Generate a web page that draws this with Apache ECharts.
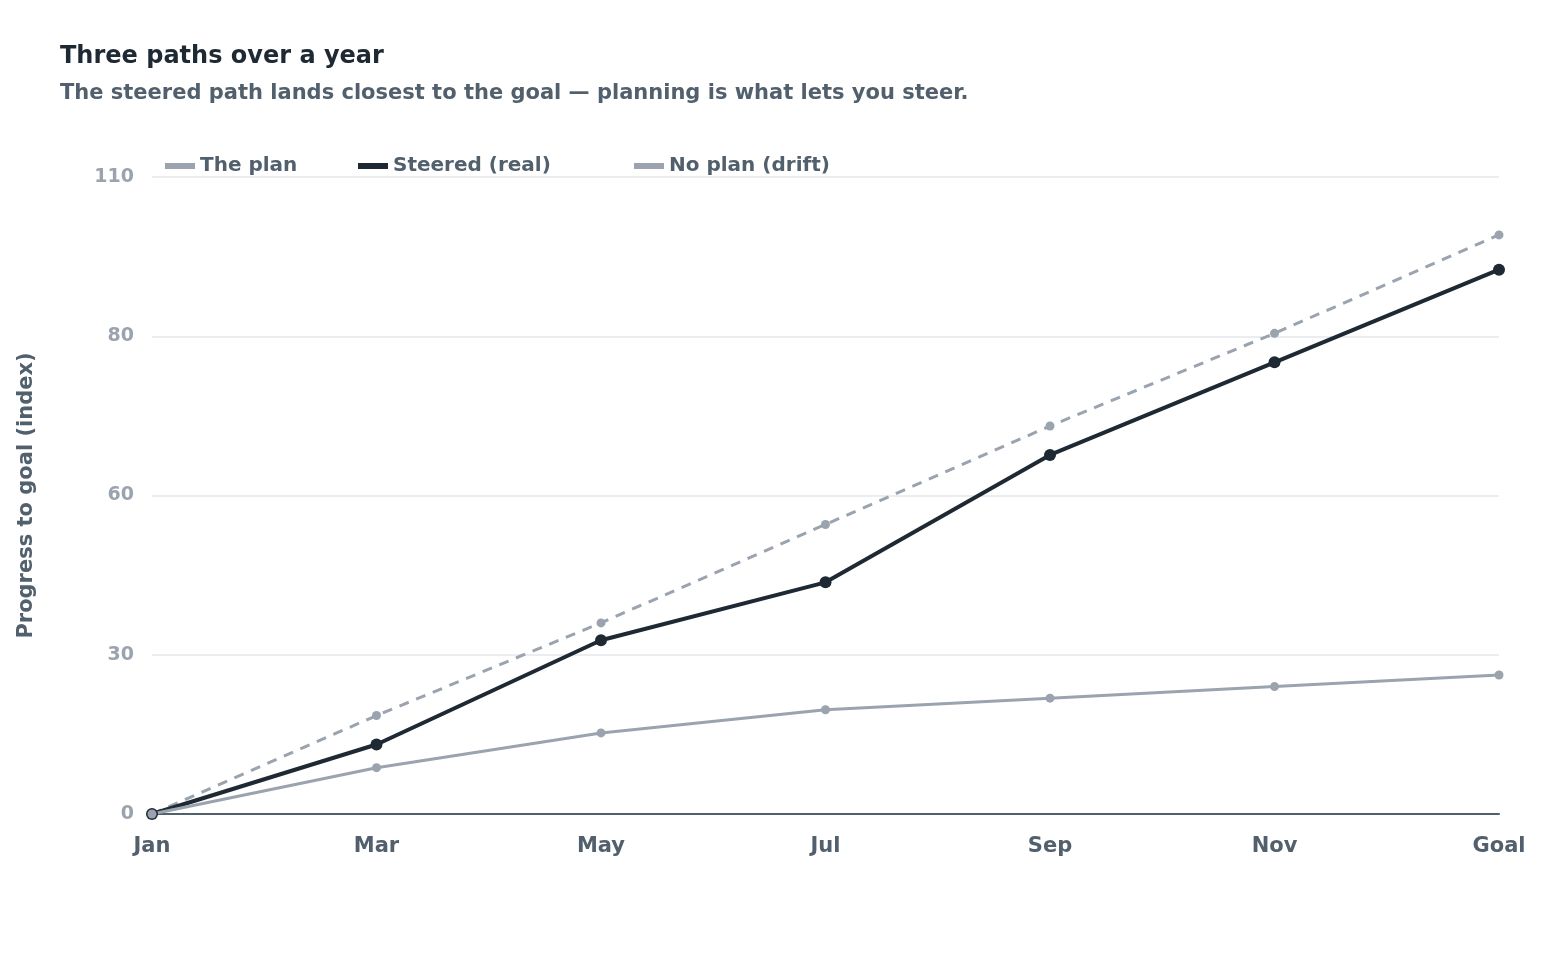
<!DOCTYPE html>
<html>
<head>
<meta charset="utf-8">
<script src="https://cdn.jsdelivr.net/npm/echarts@6/dist/echarts.min.js"></script>
<style>
  html, body { margin: 0; padding: 0; background: #ffffff; }
  #main { width: 1560px; height: 953px; }
</style>
</head>
<body>
<div id="main"></div>
<script>
var months = ['Jan', 'Mar', 'May', 'Jul', 'Sep', 'Nov', 'Goal'];
var planData = [0, 17, 33, 50, 67, 83, 100];
var steeredData = [0, 12, 30, 40, 62, 78, 94];
var driftData = [0, 8, 14, 18, 20, 22, 24];

var FONT = 'DejaVu Sans';
var DARK = '#1f2933';
var MID = '#52606d';
var GRAY = '#9aa3ae';

var myChart = echarts.init(document.getElementById('main'));

// one legend per item so each sits where the original put it
function legendAt(name, left) {
    return {
        data: [name],
        left: left,
        top: 156,
        padding: 0,
        icon: 'rect',
        itemWidth: 30,
        itemHeight: 6,
        itemGap: 8,
        textStyle: { fontFamily: FONT, fontSize: 20, fontWeight: 'bold', color: MID }
    };
}

var option = {
    backgroundColor: '#ffffff',
    animation: false,
    title: {
        text: 'Three paths over a year',
        subtext: 'The steered path lands closest to the goal \u2014 planning is what lets you steer.',
        left: 55,
        top: 40,
        itemGap: 14,
        textStyle: { fontFamily: FONT, fontSize: 24, fontWeight: 'bold', color: DARK },
        subtextStyle: { fontFamily: FONT, fontSize: 21, fontWeight: 'bold', color: MID }
    },
    legend: [
        legendAt('The plan', 165),
        legendAt('Steered (real)', 358),
        legendAt('No plan (drift)', 634)
    ],
    grid: { left: 152, right: 61, top: 177, bottom: 139 },
    xAxis: {
        type: 'category',
        data: months,
        boundaryGap: false,
        axisLine: { lineStyle: { color: MID, width: 2 } },
        axisTick: { show: false },
        axisLabel: { fontFamily: FONT, fontSize: 21, fontWeight: 'bold', color: MID, margin: 22 },
        splitLine: { show: false }
    },
    yAxis: {
        type: 'value',
        min: 0,
        max: 110,
        interval: 27.5,
        name: 'Progress to goal (index)',
        nameLocation: 'middle',
        nameGap: 115,
        nameTextStyle: { fontFamily: FONT, fontSize: 21, fontWeight: 'bold', color: MID },
        axisLine: { show: false },
        axisTick: { show: false },
        axisLabel: {
            fontFamily: FONT, fontSize: 19, fontWeight: 'bold', color: GRAY, margin: 18,
            formatter: function (v) { return String(Math.round(v / 10) * 10); }
        },
        splitLine: { lineStyle: { color: '#e4e7eb', width: 1.5 } }
    },
    series: [{
        name: 'The plan',
        type: 'line',
        data: planData,
        color: GRAY,
        symbol: 'circle',
        symbolSize: 9,
        lineStyle: { width: 3, type: [10, 8], color: GRAY },
        itemStyle: { color: GRAY }
    }, {
        name: 'Steered (real)',
        type: 'line',
        data: steeredData,
        color: DARK,
        symbol: 'circle',
        symbolSize: 12,
        lineStyle: { width: 4, color: DARK },
        itemStyle: { color: DARK }
    }, {
        name: 'No plan (drift)',
        type: 'line',
        data: driftData,
        color: GRAY,
        symbol: 'circle',
        symbolSize: 9,
        lineStyle: { width: 3, color: GRAY },
        itemStyle: { color: GRAY }
    }]
};

myChart.setOption(option);
</script>
</body>
</html>
